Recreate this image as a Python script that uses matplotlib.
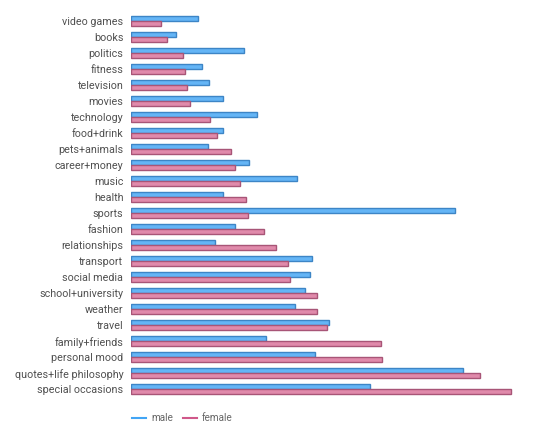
import matplotlib
matplotlib.use("Agg")
import matplotlib.pyplot as plt
from matplotlib.lines import Line2D
import numpy as np

categories = ["video games", "books", "politics", "fitness", "television", "movies",
              "technology", "food+drink", "pets+animals", "career+money", "music",
              "health", "sports", "fashion", "relationships", "transport",
              "social media", "school+university", "weather", "travel",
              "family+friends", "personal mood", "quotes+life philosophy",
              "special occasions"]
male = [67, 45, 113, 71, 78, 92, 126, 92, 77, 118, 166, 92, 324, 104, 84, 181,
        179, 174, 164, 198, 135, 184, 332, 239]
female = [30, 36, 52, 54, 56, 59, 79, 86, 100, 104, 109, 115, 117, 133, 145, 157,
          159, 186, 186, 196, 250, 251, 349, 380]

male_fill, male_edge = "#64b5f6", "#3d85c6"
female_fill, female_edge = "#e08aab", "#a85577"

fig = plt.figure(figsize=(5.42, 4.36), dpi=100)
W, H = 542, 436
top_px, bot_px = 13.3, 397.3
ax = fig.add_axes([131 / W, 1 - bot_px / H, 400 / W, (bot_px - top_px) / H])

y = np.arange(len(categories))
h = 0.32
ax.barh(y - h / 2, male, height=h, color=male_fill, edgecolor=male_edge, linewidth=1.0)
ax.barh(y + h / 2, female, height=h, color=female_fill, edgecolor=female_edge, linewidth=1.0)

ax.set_xlim(0, 400)
ax.set_ylim(len(categories) - 0.5, -0.5)
ax.set_yticks(y)
ax.set_yticklabels(categories, fontsize=7.75, color="#505050", family="Roboto")
ax.tick_params(axis="y", length=0, pad=5.5)
ax.set_xticks([])
for s in ax.spines.values():
    s.set_visible(False)

handles = [Line2D([], [], color="#42a5f5", lw=1.5),
           Line2D([], [], color="#d0588a", lw=1.5)]
fig.legend(handles, ["male", "female"], loc="center left",
           bbox_to_anchor=(132 / W, 1 - 418 / H), frameon=False, ncol=2,
           borderpad=0, borderaxespad=0,
           handlelength=1.4, handletextpad=0.5, columnspacing=1.0,
           prop={"family": "Roboto", "size": 7.2}, labelcolor="#666666")

fig.savefig("out.png", dpi=100)
